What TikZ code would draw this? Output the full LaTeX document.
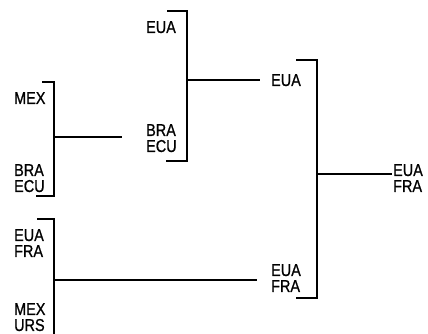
\documentclass[tikz,border=0pt]{standalone}
\usepackage{fontspec}
\setmainfont{Liberation Sans}[FakeStretch=0.84,FakeBold=0.8]
\usetikzlibrary{positioning}

\begin{document}
\begin{tikzpicture}[x=1pt,y=-1pt,line width=2.3pt,
  team/.style={align=left,inner sep=0pt,anchor=north west,font=\fontsize{17.2}{16}\selectfont}]
\useasboundingbox (0,0) rectangle (428,334);
% first round
\node[team] (mex1) at (13,91) {MEX};
\node[team] (braecu1) at (13,163) {BRA\\ECU};
\node[team] (euafra1) at (13,228) {EUA\\FRA};
\node[team] (mexurs) at (13,302) {MEX\\URS};
% semifinals
\node[team] (eua2) at (145,20) {EUA};
\node[team] (braecu2) at (145,123) {BRA\\ECU};
% final
\node[team] (eua3) at (270,73) {EUA};
\node[team] (euafra3) at (270,263) {EUA\\FRA};
% champion
\node[team] (euafra4) at (392,163) {EUA\\FRA};
% brackets
\coordinate (b1m) at (54,137); \coordinate (b2m) at (187,80);
\coordinate (b3m) at (317,174); \coordinate (b4m) at (54,280);
\draw (42,82) -- (54,82) -- (54,196) -- (36,196);
\draw (167,11) -- (187,11) -- (187,161) -- (166,161);
\draw (296,60) -- (317,60) -- (317,298) -- (296,298);
\draw (37,219) -- (54,219) -- (54,334);
% winners
\draw[shorten >=23pt] (b1m) -- (b1m -| braecu2.west);
\draw[shorten >=10pt] (b2m) -- (b2m -| eua3.west);
\draw[shorten >=13pt] (b4m) -- (b4m -| euafra3.west);
\draw (b3m) -- (b3m -| euafra4.west);
\end{tikzpicture}
\end{document}
